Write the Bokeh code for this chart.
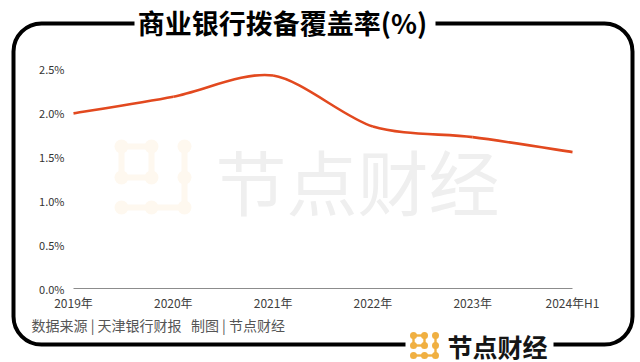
from bokeh.plotting import figure
from bokeh.models import Range1d, FixedTicker, PrintfTickFormatter, BoxAnnotation, Label
from bokeh.embed import file_html
from bokeh.resources import INLINE
import numpy as np
import math

# ---- data ----
categories = ["2019年", "2020年", "2021年", "2022年", "2023年", "2024年H1"]
ratio = [1.99, 2.18, 2.42, 1.84, 1.72, 1.55]
y_ticks = [0.0, 0.5, 1.0, 1.5, 2.0, 2.5]
title_text = "商业银行拨备覆盖率(%)"
source_text = "数据来源 | 天津银行财报\u00a0\u00a0\u00a0制图 | 节点财经"
brand_text = "节点财经"

FONT = "Noto Sans CJK SC"
W, H = 640, 362

# layout: where the data area sits on the canvas (pixels)
PX_LEFT, PX_RIGHT = 73.0, 572.0     # first / last category
PX_ZERO, PX_TOP = 288.0, 68.0       # y = 0 and y = 2.5
n_cat = len(categories)
ux = (PX_RIGHT - PX_LEFT) / (n_cat - 1)
uy = (PX_ZERO - PX_TOP) / y_ticks[-1]
x_range = Range1d(-PX_LEFT / ux, (n_cat - 1) + (W - PX_RIGHT) / ux)
y_range = Range1d(-(H - PX_ZERO) / uy, PX_ZERO / uy)

p = figure(width=W, height=H, output_backend="svg", toolbar_location=None,
           x_range=x_range, y_range=y_range,
           min_border_left=0, min_border_right=0, min_border_top=0, min_border_bottom=0)
p.outline_line_color = None
p.xgrid.visible = False
p.ygrid.visible = False
p.background_fill_color = "white"
p.border_fill_color = "white"

# x axis
xa = p.xaxis[0]
xa.fixed_location = 0
xa.bounds = (0, n_cat - 1)
xa.ticker = FixedTicker(ticks=list(range(n_cat)))
xa.major_label_overrides = {i: c for i, c in enumerate(categories)}
xa.axis_line_color = "#8c8c8c"
xa.axis_line_width = 1
xa.major_tick_in = 0
xa.major_tick_out = 0
xa.minor_tick_in = 0
xa.minor_tick_out = 0
xa.major_label_standoff = 5
xa.major_label_text_font = FONT
xa.major_label_text_font_size = "12px"
xa.major_label_text_color = "#404040"

# y axis
ya = p.yaxis[0]
ya.fixed_location = 0
ya.bounds = (0, y_ticks[-1])
ya.ticker = FixedTicker(ticks=y_ticks)
ya.formatter = PrintfTickFormatter(format="%.1f%%")
ya.axis_line_color = None
ya.major_tick_in = 0
ya.major_tick_out = 0
ya.minor_tick_in = 0
ya.minor_tick_out = 0
ya.major_label_standoff = 9
ya.major_label_text_font = FONT
ya.major_label_text_font_size = "11px"
ya.major_label_text_color = "#333333"


def box(left, right, top, bottom, **kw):
    return BoxAnnotation(left=left, right=right, top=top, bottom=bottom,
                         left_units="canvas", right_units="canvas",
                         top_units="canvas", bottom_units="canvas", editable=False, **kw)


def add_icon(cols, rows, r, lw, color, level):
    c0, c1, c2 = cols
    r0, r1, r2 = rows
    edges = [((c0, r0), (c1, r0)), ((c0, r1), (c1, r1)), ((c0, r0), (c0, r1)),
             ((c1, r0), (c1, r1)), ((c2, r0), (c2, r2)), ((c0, r2), (c2, r2))]
    for (xa_, ya_), (xb, yb) in edges:
        p.add_layout(box(min(xa_, xb) - lw / 2, max(xa_, xb) + lw / 2,
                         min(ya_, yb) - lw / 2, max(ya_, yb) + lw / 2,
                         fill_color=color, fill_alpha=1, line_color=None, level=level))
    for cx in cols:
        for cy in rows:
            p.add_layout(box(cx - r, cx + r, cy - r, cy + r,
                             fill_color=color, fill_alpha=1, line_color=None,
                             border_radius=int(math.ceil(r)), level=level))


# ---- watermark (underlay) ----
add_icon([121, 151, 184], [146, 177, 207], 7, 6, "#fef8ef", "underlay")
p.add_layout(Label(x=215, y=178, x_units="canvas", y_units="canvas",
                   text=brand_text, text_font=FONT, text_font_size="71px",
                   text_color="#efefef", text_align="left", text_baseline="middle",
                   level="underlay"))

# ---- smooth line from the data (cubic Bezier segments, Catmull-Rom tangents) ----
xs = np.arange(len(ratio), dtype=float)
ys = np.array(ratio, dtype=float)
n = len(xs)
k = 1.0 / 7.0
x0, y0, x1, y1, cx0, cy0, cx1, cy1 = ([] for _ in range(8))
for i in range(n - 1):
    ip = max(i - 1, 0)
    inx = min(i + 2, n - 1)
    x0.append(xs[i]); y0.append(ys[i]); x1.append(xs[i + 1]); y1.append(ys[i + 1])
    cx0.append(xs[i] + (xs[i + 1] - xs[ip]) * k)
    cy0.append(ys[i] + (ys[i + 1] - ys[ip]) * k)
    cx1.append(xs[i + 1] - (xs[inx] - xs[i]) * k)
    cy1.append(ys[i + 1] - (ys[inx] - ys[i]) * k)
p.bezier(x0=x0, y0=y0, x1=x1, y1=y1, cx0=cx0, cy0=cy0, cx1=cx1, cy1=cy1,
         line_color="#e2491f", line_width=2.6)

# ---- rounded frame ----
p.add_layout(box(13, 632, 23, 344, fill_color=None, fill_alpha=0, line_color="black",
                 line_alpha=1, line_width=4, border_radius=28))
# gaps in the frame for title and brand
p.add_layout(box(134, 435, 12, 34, fill_color="white", fill_alpha=1, line_color=None))
p.add_layout(box(405, 553, 334, 356, fill_color="white", fill_alpha=1, line_color=None))

# title
p.add_layout(Label(x=282, y=22, x_units="canvas", y_units="canvas",
                   text=title_text, text_font=FONT, text_font_size="27px",
                   text_font_style="bold", text_color="black",
                   text_align="center", text_baseline="middle"))
# source
p.add_layout(Label(x=31, y=324, x_units="canvas", y_units="canvas",
                   text=source_text, text_font=FONT, text_font_size="14px",
                   text_color="#555555", text_align="left", text_baseline="middle"))
# brand logo
add_icon([413, 424, 435], [335, 345, 355], 3.5, 2.4, "#f0b042", "annotation")
p.add_layout(Label(x=447, y=345, x_units="canvas", y_units="canvas",
                   text=brand_text, text_font=FONT, text_font_size="25px",
                   text_font_style="bold", text_color="#151515",
                   text_align="left", text_baseline="middle"))

open("out.html", "w").write(file_html(p, INLINE))
